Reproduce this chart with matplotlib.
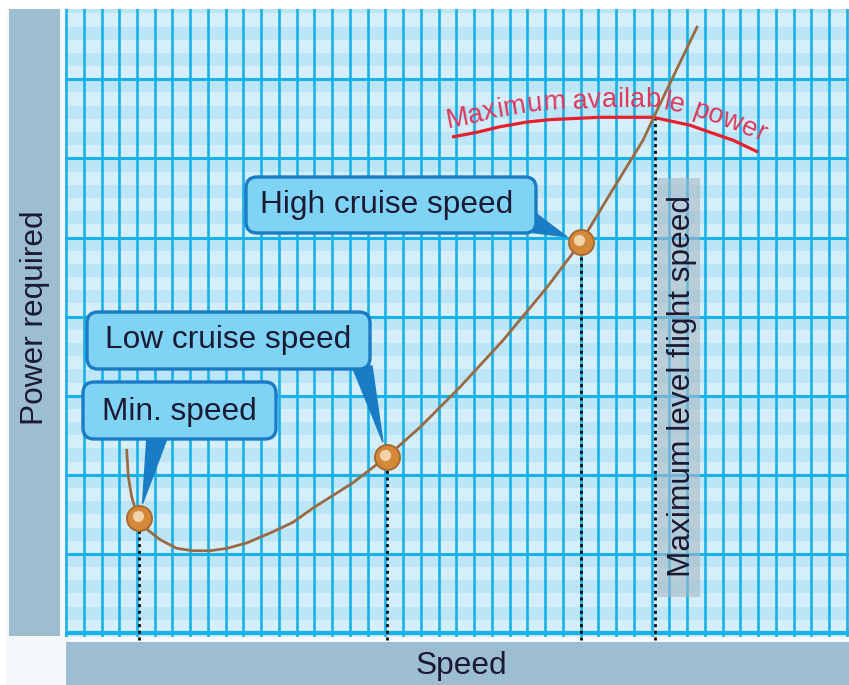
import numpy as np
import matplotlib
matplotlib.use("Agg")
import matplotlib.pyplot as plt
from matplotlib.patches import Rectangle, FancyBboxPatch, Polygon
from matplotlib.transforms import Affine2D, IdentityTransform, offset_copy
from matplotlib.font_manager import FontProperties

# ---------------- data (grid units) ----------------
speed = [3.42, 3.51, 3.70, 3.89, 4.13, 4.62, 5.30, 6.24, 7.15, 8.11, 9.07, 10.20,
         11.66, 12.79, 13.92, 16.17, 18.08, 19.94, 22.20, 24.62, 27.10, 29.01,
         30.76, 32.51, 33.30, 34.03, 35.55]
power_required = [2.31, 1.98, 1.72, 1.58, 1.45, 1.30, 1.18, 1.07, 1.04, 1.04, 1.07, 1.14,
                  1.28, 1.40, 1.58, 1.90, 2.23, 2.60, 3.11, 3.70, 4.37, 4.94,
                  5.59, 6.23, 6.61, 6.95, 7.66]

avail_speed = [21.75, 23.15, 24.45, 25.97, 27.27, 30.08, 33.07, 35.15, 36.28, 37.58, 38.14, 38.99]
avail_power = [6.27, 6.33, 6.40, 6.46, 6.49, 6.52, 6.52, 6.42, 6.33, 6.23, 6.17, 6.08]

point_labels = ["Min. speed", "Low cruise speed", "High cruise speed"]
point_speed = [4.13, 18.08, 29.01]
point_power = [1.45, 2.23, 4.94]

max_level_speed = 33.18
max_level_power = 6.51

x_label = "Speed"
y_label = "Power required"
avail_label = "Maximum available power"
max_level_label = "Maximum level flight speed"

# ---------------- layout ----------------
W, H = 849, 685
FONT = "Liberation Sans"
FS = 22.8
TXT = "#1a1a33"
fig = plt.figure(figsize=(W / 100, H / 100), dpi=100, facecolor="white")
PX = Affine2D().scale(1 / 100, -1 / 100).translate(0, H / 100) + fig.dpi_scale_trans

fig.patches.append(Rectangle((6, 9), W - 6, H - 9, transform=PX, facecolor="#f4f8fb",
                             edgecolor="none", zorder=-2))
fig.patches.append(Rectangle((9, 9), 51, 627, transform=PX, facecolor="#9dbdd0",
                             edgecolor="none", zorder=-1))
fig.patches.append(Rectangle((66, 642), W - 66, H - 642, transform=PX, facecolor="#9dbdd0",
                             edgecolor="none", zorder=-1))

# axes box in pixels
L, R, T, B = 65, 849, 9, 637
ax = fig.add_axes([L / W, 1 - B / H, (R - L) / W, (B - T) / H])
ax.set_zorder(0)
ax.set_xlim((L - 66) / 17.75, (R - 66) / 17.75)
ax.set_ylim((633 - B) / 79.1, (633 - T) / 79.1)
ax.set_facecolor("#d5eefb")
for s in ax.spines.values():
    s.set_visible(False)
ax.set_xticks([]); ax.set_yticks([])

# banded background
band = 1 / 6
for k in range(0, 48):
    if k % 2 == 1:
        ax.axhspan(k * band, (k + 1) * band, color="#bce5f8", lw=0, zorder=0.2)

# grid
gcol = "#19b1ea"
ax.vlines(np.arange(0, 45), -1, 9, color=gcol, lw=1.9, zorder=0.5)
ax.hlines(np.arange(1, 8), -1, 50, color=gcol, lw=2.2, zorder=0.5)
ax.hlines([0], -1, 50, color=gcol, lw=3.0, zorder=0.5)

# gray band behind vertical label
fig.patches.append(Rectangle((657, 178), 43, 419, transform=PX, facecolor="#a9b9c4",
                             alpha=0.6, edgecolor="none", zorder=2))

# dotted drop lines
drop_x = point_speed + [max_level_speed]
drop_y = point_power + [max_level_power]
ybot = (633 - 640) / 79.1
for xx, yy in zip(drop_x, drop_y):
    ax.plot([xx, xx], [ybot, yy], color="#0a0a0a", lw=2.0, ls=(0, (1.1, 1.3)),
            zorder=3, clip_on=False)

# curves
ax.plot(avail_speed, avail_power, color="#e8202e", lw=2.3, zorder=4,
        solid_capstyle="butt", solid_joinstyle="round")
ax.plot(speed, power_required, color="#9a6a42", lw=2.0, zorder=5, solid_joinstyle="round")

# markers
ax.plot(point_speed, point_power, "o", ms=18, mfc="#d4893a", mec="#a86a2c", mew=1.4, zorder=6)
hl = offset_copy(ax.transData, fig=fig, x=-1.5, y=2.0, units="dots")
ax.plot(point_speed, point_power, "o", ms=8, mfc="#f2d2a8", mec="none", zorder=7,
        transform=hl)

# callouts
def data_px(x, y):
    d = ax.transData.transform((x, y))
    return d[0], H - d[1]

boxes = [  # x, y, w, h, text x, baseline, pointer base pts
    (83, 382, 193, 57, 102, 420, [(147, 436), (168, 436)]),
    (87, 312, 283, 57, 105, 348, [(352, 366), (372, 366)]),
    (246, 177, 290, 56, 260, 213, [(520, 231), (534, 212)]),
]
BOXFILL = "#7fd3f5"
BOXEDGE = "#1a7cc4"
for (bx, by, bw, bh, tx, tb, base), lab, xs, ys in zip(boxes, point_labels, point_speed, point_power):
    cx, cy = data_px(xs, ys)
    mx = np.mean([p[0] for p in base]); my = np.mean([p[1] for p in base])
    v = np.array([mx - cx, my - cy]); v /= np.hypot(*v)
    tip = (cx + 15 * v[0], cy + 15 * v[1])
    fig.patches.append(Polygon(base + [tip], closed=True, transform=PX, facecolor=BOXEDGE,
                               edgecolor=BOXEDGE, lw=1, zorder=8))
    fig.patches.append(FancyBboxPatch((bx, by), bw, bh, boxstyle="round,pad=0,rounding_size=11",
                                      transform=PX, facecolor=BOXFILL, edgecolor=BOXEDGE,
                                      lw=2.4, zorder=9))
    fig.text(tx, tb, lab, transform=PX, fontsize=FS, family=FONT, color=TXT,
             ha="left", va="baseline", zorder=10)

# axis labels
fig.text(43, 317.5, y_label, transform=PX, fontsize=FS, family=FONT, color=TXT,
         rotation=90, rotation_mode="anchor", ha="center", va="baseline", zorder=10)
fig.text(461, 674, x_label, transform=PX, fontsize=FS, family=FONT, color=TXT,
         ha="center", va="baseline", zorder=10)
fig.text(690, 386, max_level_label, transform=PX, fontsize=FS, family=FONT, color=TXT,
         rotation=90, rotation_mode="anchor", ha="center", va="baseline", zorder=10)

# curved label along the available-power curve
renderer = fig.canvas.get_renderer()
fp = FontProperties(family=FONT, size=19.5)
def tw(s):
    return renderer.get_text_width_height_descent(s, fp, ismath=False)[0]

pts = ax.transData.transform(np.column_stack([avail_speed, avail_power]))
seg = np.diff(pts, axis=0)
seglen = np.hypot(seg[:, 0], seg[:, 1])
cum = np.concatenate([[0], np.cumsum(seglen)])

def along(sv):
    i = int(np.clip(np.searchsorted(cum, sv) - 1, 0, len(seg) - 1))
    u = seg[i] / seglen[i]
    p = pts[i] + u * (sv - cum[i])
    return p, u

OFF = 10.0
s0 = -2.0
for i, ch in enumerate(avail_label):
    if ch == " ":
        continue
    c = s0 + tw(avail_label[:i + 1]) - tw(ch) / 2
    p, u = along(c)
    nrm = np.array([-u[1], u[0]])
    q = p + OFF * nrm
    ang = np.degrees(np.arctan2(u[1], u[0]))
    fig.text(q[0], q[1], ch, transform=IdentityTransform(), fontproperties=fp,
             color="#de3a5a", ha="center", va="baseline", rotation=ang,
             rotation_mode="anchor", zorder=6)

fig.savefig("out.png", dpi=100, facecolor=fig.get_facecolor())
